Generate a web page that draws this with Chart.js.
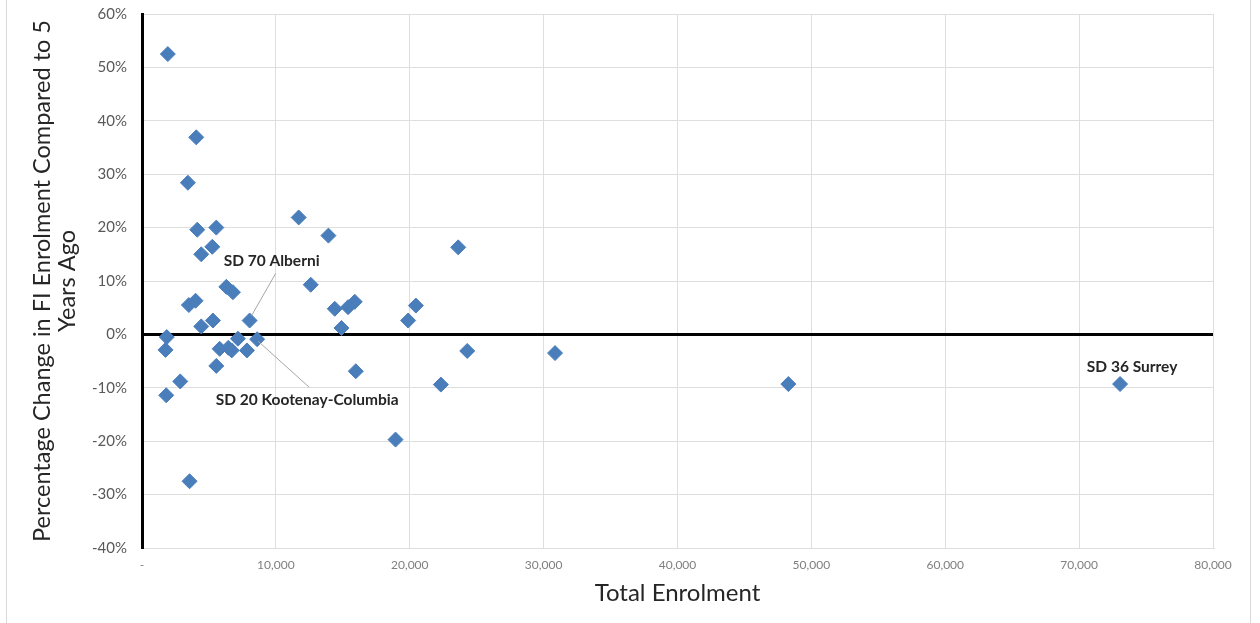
<!DOCTYPE html>
<html>
<head>
<meta charset="utf-8">
<script src="https://cdn.jsdelivr.net/npm/chart.js@4"></script>
<style>
html,body{margin:0;padding:0;background:#fff;}
#wrap{width:1260px;height:623px;position:relative;}
</style>
</head>
<body>
<div id="wrap"><canvas id="c" width="1260" height="623"></canvas></div>
<script>
// ---- data ----
const totalEnrolment = [
  1930, 4054, 3427, 4128, 5550, 11705, 13925, 4428, 5250, 6298,
  6791, 3500, 4000, 4428, 5297, 8040, 1850, 1758, 5800, 6450,
  6700, 7166, 7840, 8600, 5550, 2857, 1810, 3553, 12603, 14398,
  15393, 15894, 14899, 15969, 20456, 19880, 18938, 23620, 24293, 30853,
  22326, 48280, 73060
];
const pctChange = [
  52.5, 36.9, 28.4, 19.6, 20.0, 21.9, 18.5, 15.0, 16.4, 8.9,
  7.9, 5.5, 6.3, 1.5, 2.6, 2.6, -0.5, -2.9, -2.7, -2.5,
  -3.0, -0.8, -3.0, -0.9, -5.9, -8.8, -11.4, -27.5, 9.3, 4.8,
  5.1, 6.1, 1.2, -6.9, 5.4, 2.6, -19.7, 16.3, -3.1, -3.5,
  -9.4, -9.3, -9.3
];
const labelledIndex = [15, 23, 42];
const labelledNames = ["SD 70 Alberni", "SD 20 Kootenay-Columbia", "SD 36 Surrey"];
const xTitle = "Total Enrolment";
const yTitle = ["Percentage Change in FI Enrolment Compared to 5", "Years Ago"];

const FONT = "Lato, 'Open Sans', sans-serif";

const points = totalEnrolment.map((x, i) => ({x: x, y: pctChange[i]}));

// label offsets (pixels, relative to the labelled point)
const annoStyle = [
  {dx: 22, dy: -60, lx1: 2, ly1: -5, lx2: 26, ly2: -47},
  {dx: 50, dy: 61, lx1: 1, ly1: 2, lx2: 52, ly2: 48},
  {dx: 12, dy: -17, lx1: 0, ly1: 0, lx2: 0, ly2: 0}
];

const annotationPlugin = {
  id: 'annos',
  afterDatasetsDraw(chart) {
    const ctx = chart.ctx;
    const xs = chart.scales.x, ys = chart.scales.y;
    ctx.save();
    labelledIndex.forEach((idx, k) => {
      const px = xs.getPixelForValue(totalEnrolment[idx]);
      const py = ys.getPixelForValue(pctChange[idx]);
      const s = annoStyle[k];
      if (s.lx2 !== 0 || s.ly2 !== 0) {
        ctx.strokeStyle = '#a6a6a6';
        ctx.lineWidth = 1;
        ctx.beginPath();
        ctx.moveTo(px + s.lx1, py + s.ly1);
        ctx.lineTo(px + s.lx2, py + s.ly2);
        ctx.stroke();
      }
      ctx.fillStyle = '#262626';
      ctx.font = "bold 15.5px " + FONT;
      ctx.textAlign = 'center';
      ctx.textBaseline = 'middle';
      ctx.fillText(labelledNames[k], px + s.dx, py + s.dy);
    });
    ctx.restore();
  }
};

const framePlugin = {
  id: 'frame',
  afterDraw(chart) {
    const ctx = chart.ctx;
    ctx.save();
    ctx.strokeStyle = '#d9d9d9';
    ctx.lineWidth = 1;
    ctx.strokeRect(6.5, -5, 1244, 640);
    ctx.restore();
  }
};

new Chart(document.getElementById('c'), {
  type: 'scatter',
  data: {
    datasets: [{
      data: points,
      pointStyle: 'rectRot',
      pointRadius: 7.5,
      pointHoverRadius: 7.5,
      backgroundColor: '#4A7EBB',
      borderColor: '#4A7EBB',
      borderWidth: 1
    }]
  },
  options: {
    responsive: false,
    animation: false,
    layout: {padding: {top: 14, right: 47, left: 0, bottom: 0}},
    plugins: {legend: {display: false}, tooltip: {enabled: false}},
    scales: {
      x: {
        type: 'linear',
        min: 0, max: 80000,
        afterFit(scale) { scale.height = 75; },
        ticks: {
          stepSize: 10000,
          padding: 10,
          color: '#7f7f7f',
          font: {family: FONT, size: 12},
          callback: v => v === 0 ? '-' : v.toLocaleString('en-US')
        },
        grid: {
          drawTicks: false,
          color: c => c.tick && c.tick.value === 0 ? '#000000' : '#dedede',
          lineWidth: c => c.tick && c.tick.value === 0 ? 3 : 1
        },
        border: {display: true, color: '#dedede', width: 1},
        title: {
          display: true,
          text: xTitle,
          color: '#262626',
          font: {family: FONT, size: 24},
          padding: {top: 0, bottom: 15}
        }
      },
      y: {
        type: 'linear',
        min: -40, max: 60,
        afterFit(scale) {
          scale.width = 142;
          scale.paddingTop = 0;
          scale.paddingBottom = 0;
        },
        ticks: {
          stepSize: 10,
          padding: 15,
          color: '#595959',
          font: {family: FONT, size: 15},
          callback: v => v + '%'
        },
        grid: {
          drawTicks: false,
          color: c => c.tick && c.tick.value === 0 ? '#000000' : '#dedede',
          lineWidth: c => c.tick && c.tick.value === 0 ? 3 : 1
        },
        border: {display: true, color: '#000000', width: 3},
        title: {
          display: true,
          text: yTitle,
          color: '#262626',
          font: {family: FONT, size: 23.5, lineHeight: 1.06},
          padding: {top: 30, bottom: 0}
        }
      }
    }
  },
  plugins: [annotationPlugin, framePlugin]
});
</script>
</body>
</html>
